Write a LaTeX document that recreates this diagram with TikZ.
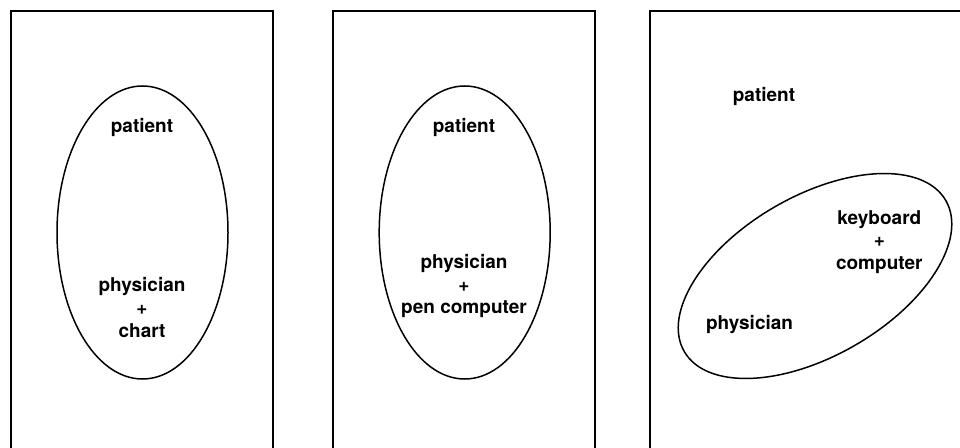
\documentclass[tikz,border=0pt]{standalone}
\usepackage{fontspec}
\setmainfont{TeX Gyre Heros}
\begin{document}
\begin{tikzpicture}[x=1pt,y=1pt,
  frame/.style={line width=2pt},
  blob/.style={line width=1.5pt},
  lbl/.style={anchor=base,inner sep=0pt,font=\bfseries\fontsize{19}{22}\selectfont}]
\useasboundingbox (0,0) rectangle (960,447);
% frames
\draw[frame] (10.7,-2) -- (10.7,436.3) -- (272.7,436.3) -- (272.7,-2);
\draw[frame] (332.7,-2) -- (332.7,436.3) -- (595.3,436.3) -- (595.3,-2);
\draw[frame] (650,-2) -- (650,436.3) -- (962,436.3);
% ellipses
\draw[blob] (142.5,214.5) ellipse [x radius=85.5, y radius=146.5];
\draw[blob] (464.7,214.5) ellipse [x radius=85.5, y radius=146.5];
\draw[blob, rotate around={30:(815,171)}] (815,171) ellipse [x radius=151, y radius=80];
% panel 1
\node[lbl] (p1pat) at (142,314) {patient};
\node[lbl] (p1phy) at (142,155) {physician};
\node[lbl] (p1plus) at (142,132.5) {+};
\node[lbl] (p1chart) at (142,110) {chart};
% panel 2
\node[lbl] (p2pat) at (464,314) {patient};
\node[lbl] (p2phy) at (464,178) {physician};
\node[lbl] (p2plus) at (464,155.5) {+};
\node[lbl] (p2pen) at (464,133) {pen computer};
% panel 3
\node[lbl] (p3pat) at (764,345) {patient};
\node[lbl] (p3key) at (879.3,222.7) {keyboard};
\node[lbl] (p3plus) at (879.3,200.2) {+};
\node[lbl] (p3comp) at (879.3,177.7) {computer};
\node[lbl] (p3phy) at (749.5,117.7) {physician};
\end{tikzpicture}
\end{document}
